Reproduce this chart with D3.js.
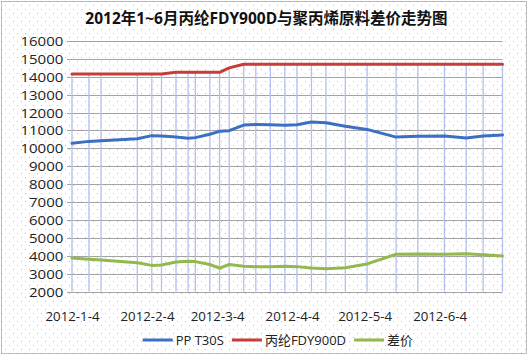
<!DOCTYPE html>
<html><head><meta charset="utf-8">
<script src="https://cdn.jsdelivr.net/npm/d3@7"></script>
<style>
html,body{margin:0;padding:0;background:#fff;}
svg{display:block;}
</style></head>
<body>
<svg id="chart" width="529" height="356"></svg>
<script>
const title = "2012年1~6月丙纶FDY900D与聚丙烯原料差价走势图";
const dates = ["2012-01-04","2012-01-11","2012-01-16","2012-01-31","2012-02-06","2012-02-10","2012-02-16","2012-02-21","2012-02-24","2012-03-01","2012-03-05","2012-03-09","2012-03-15","2012-03-20","2012-03-26","2012-04-01","2012-04-06","2012-04-12","2012-04-18","2012-04-26","2012-05-05","2012-05-17","2012-05-26","2012-06-06","2012-06-15","2012-06-22","2012-06-30"];
const ppT30S = [10280,10390,10430,10540,10710,10690,10630,10560,10600,10790,10950,10990,11300,11340,11320,11290,11320,11470,11430,11230,11060,10630,10670,10690,10580,10690,10750];
const fdy900D = [14150,14150,14150,14150,14150,14150,14250,14250,14250,14250,14250,14500,14700,14700,14700,14700,14700,14700,14700,14700,14700,14700,14700,14700,14700,14700,14700];
const spread = [3870,3800,3760,3610,3460,3480,3650,3690,3670,3510,3310,3510,3410,3390,3390,3410,3390,3320,3270,3330,3540,4080,4100,4080,4110,4060,3980];
const seriesNames = ["PP T30S","丙纶FDY900D","差价"];
const seriesColors = ["#3b6fc1","#c63d38","#93b84c"];
const yTicks = [2000,3000,4000,5000,6000,7000,8000,9000,10000,11000,12000,13000,14000,15000,16000];
const xTickDates = ["2012-01-04","2012-02-04","2012-03-04","2012-04-04","2012-05-04","2012-06-04"];
const xTickLabels = ["2012-1-4","2012-2-4","2012-3-4","2012-4-4","2012-5-4","2012-6-4"];

const parse = d3.timeParse("%Y-%m-%d");
const svg = d3.select("#chart");
const W = 529, H = 356;
const M = {left:72, right:26.5, top:41, bottom:64.5};
const FONT = "'Open Sans','Noto Sans CJK SC',sans-serif";

// background dot pattern
const defs = svg.append("defs");
const pat = defs.append("pattern").attr("id","dots").attr("width",8).attr("height",8).attr("patternUnits","userSpaceOnUse");
pat.append("rect").attr("width",8).attr("height",8).attr("fill","#fff");
pat.append("rect").attr("x",1).attr("y",1).attr("width",1).attr("height",1).attr("fill","#c2c2c2");
pat.append("rect").attr("x",5).attr("y",5).attr("width",1).attr("height",1).attr("fill","#c2c2c2");
svg.append("rect").attr("width",W).attr("height",H).attr("fill","url(#dots)");
svg.append("rect").attr("x",1.5).attr("y",1.5).attr("width",W-4).attr("height",H-4)
  .attr("fill","none").attr("stroke","#7a7a7a").attr("stroke-dasharray","1,1");

const x = d3.scaleTime().domain([parse(dates[0]), parse(dates[dates.length-1])]).range([M.left, W-M.right]);
const y = d3.scaleLinear().domain([2000,16000]).range([H-M.bottom, M.top]);

// title
svg.append("text").attr("x",266.5).attr("y",24).attr("text-anchor","middle")
  .attr("font-family",FONT).attr("font-weight","bold").attr("font-size",15.5).attr("fill","#111")
  .text(title);

// horizontal gridlines
svg.append("g").selectAll("line").data(yTicks).join("line")
  .attr("x1",M.left-5).attr("x2",W-M.right)
  .attr("y1",d=>Math.round(y(d))+0.5).attr("y2",d=>Math.round(y(d))+0.5)
  .attr("stroke","#a3a3a3").attr("stroke-width",1);

// y axis labels
const yAxis = d3.axisLeft(y).tickValues(yTicks).tickSize(0).tickPadding(0).tickFormat(d3.format("d"));
const gy = svg.append("g").attr("transform",`translate(${M.left},0)`).call(yAxis);
gy.select(".domain").remove();
gy.selectAll("text").attr("font-family",FONT).attr("font-size",12.5).attr("fill","#222")
  .attr("x",-8.7/1.2).attr("dy","0.36em").attr("transform","scale(1.2,1)");

// x axis labels
const xAxis = d3.axisBottom(x).tickValues(xTickDates.map(parse)).tickSize(0).tickPadding(0)
  .tickFormat((d,i)=>xTickLabels[i]);
const gx = svg.append("g").attr("transform",`translate(0,${H-M.bottom})`).call(xAxis);
gx.select(".domain").remove();
gx.selectAll("text").attr("font-family",FONT).attr("font-size",12.5).attr("fill","#222")
  .attr("y",29.5).attr("dy",0).attr("transform","scale(1.06,1)");

// drop lines
const rows = dates.map((d,i)=>({date:parse(d), vals:[ppT30S[i],fdy900D[i],spread[i]]}));
svg.append("g").selectAll("line").data(rows).join("line")
  .attr("x1",d=>x(d.date)).attr("x2",d=>x(d.date))
  .attr("y1",d=>y(d3.max(d.vals))).attr("y2",y(2000))
  .attr("stroke","#b3bff0").attr("stroke-width",1.3);

// series lines
const seriesData = [ppT30S, fdy900D, spread];
const line = d3.line().x((d,i)=>x(parse(dates[i]))).y(d=>y(d));
seriesData.forEach((s,k)=>{
  svg.append("path").datum(s).attr("d",line).attr("fill","none")
    .attr("stroke",seriesColors[k]).attr("stroke-width",3).attr("stroke-linejoin","round").attr("stroke-linecap","round");
});

// legend
const lg = svg.append("g").attr("transform","translate(0,340)");
let lx = 142.7;
seriesNames.forEach((n,k)=>{
  lg.append("line").attr("x1",lx).attr("x2",lx+30).attr("y1",0).attr("y2",0)
    .attr("stroke",seriesColors[k]).attr("stroke-width",3);
  const t = lg.append("text").attr("x",lx+33).attr("y",0).attr("dy","0.36em")
    .attr("font-family",FONT).attr("font-size",13).attr("fill","#222").text(n);
  lx += 33 + t.node().getComputedTextLength() + 8;
});
</script>
</body></html>
